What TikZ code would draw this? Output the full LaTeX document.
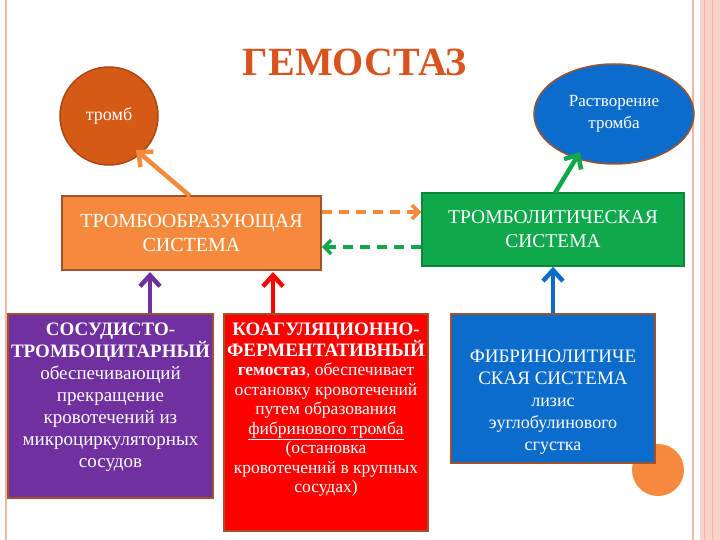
\documentclass[tikz,border=0pt]{standalone}
\usepackage{fontspec}
\setmainfont{Liberation Serif}
\usetikzlibrary{shapes.geometric,arrows.meta}
\definecolor{ttl}{HTML}{D9531E}
\definecolor{org}{HTML}{F58A3C}
\definecolor{brn}{HTML}{D55A15}
\definecolor{grn}{HTML}{10A84C}
\definecolor{blu}{HTML}{0B6CCB}
\definecolor{pur}{HTML}{7030A0}
\definecolor{rd}{HTML}{FF0000}
\definecolor{edge}{HTML}{A0522D}
\definecolor{pink}{HTML}{F4B4A4}
\begin{document}
\begin{tikzpicture}[x=1pt,y=-1pt,
  box/.style={draw=edge,line width=1.5pt,text=white,align=center,inner sep=0pt},
  arr/.style={line width=4.5pt,-{Straight Barb[length=11pt,width=20pt]}},
  darr/.style={line width=3.5pt,dash pattern=on 10pt off 7pt,-{Straight Barb[length=7pt,width=14pt]}}]
\useasboundingbox (0,0) rectangle (720,540);
\fill[white] (0,0) rectangle (720,540);
% border
\draw[pink,line width=1.5pt] (6,0) -- (6,540);
\draw[pink,line width=1.5pt] (693,0) -- (693,540);
\fill[pink!60] (700,0) rectangle (720,540);
\draw[pink,line width=1pt] (704,0) -- (704,540);
\draw[pink,line width=1pt] (712,0) -- (712,540);
\fill[org] (658,470) circle (26);
% title
\node[font=\fontsize{40}{42}\selectfont\bfseries,text=ttl] (t) at (355,62) {ГЕМОСТАЗ};
% nodes
\node[box,circle,fill=brn,minimum size=98pt,draw=brn!80!black,font=\fontsize{18}{20}\selectfont] (tromb) at (109,116) {тромб};
\node[box,ellipse,fill=blu,minimum width=160pt,minimum height=100pt,font=\fontsize{17}{22}\selectfont] (rast) at (614,114) {Растворение\\ тромба};
\node[box,fill=org,minimum width=259pt,minimum height=74pt,font=\fontsize{20}{24}\selectfont] (tro) at (191.5,233) {ТРОМБООБРАЗУЮЩАЯ\\ СИСТЕМА};
\node[box,fill=grn,minimum width=262pt,minimum height=73pt,draw=grn!80!black,font=\fontsize{19.5}{24}\selectfont] (trl) at (553,229.5) {ТРОМБОЛИТИЧЕСКАЯ\\ СИСТЕМА};
\node[box,fill=pur,minimum width=205pt,minimum height=184pt,anchor=north] (p) at (110.5,313) {};
\node[text=white,align=center,anchor=north,font=\fontsize{19}{22}\selectfont] (pt) at (p.north) [yshift=-6pt] {\textbf{СОСУДИСТО-}\\ \textbf{ТРОМБОЦИТАРНЫЙ}\\ обеспечивающий\\ прекращение\\ кровотечений из\\ микроциркуляторных\\ сосудов};
\node[box,fill=rd,minimum width=204pt,minimum height=217pt,anchor=north] (r) at (326,313) {};
\node[text=white,align=center,anchor=north,font=\fontsize{17.5}{19.5}\selectfont] (rt) at (r.north) [yshift=-6pt] {{\fontsize{19}{22}\selectfont\textbf{КОАГУЛЯЦИОННО-}}\\ {\fontsize{19}{22}\selectfont\textbf{ФЕРМЕНТАТИВНЫЙ}}\\ \textbf{гемостаз}, обеспечивает\\ остановку кровотечений\\ путем образования\\ \underline{фибринового тромба}\\ (остановка\\ кровотечений в крупных\\ сосудах)};
\node[box,fill=blu,minimum width=204pt,minimum height=149pt,anchor=north] (b) at (553,313) {};
\node[text=white,align=center,anchor=north,font=\fontsize{19}{22}\selectfont] (bt) at (b.north) [yshift=-33pt] {ФИБРИНОЛИТИЧЕ\\ СКАЯ СИСТЕМА\\ {\fontsize{18}{22}\selectfont лизис}\\ {\fontsize{18}{22}\selectfont эуглобулинового}\\ {\fontsize{18}{22}\selectfont сгустка}};
% arrows
\coordinate (a1) at (190,196); \coordinate (a1e) at (136,150);
\draw[arr,org] (a1) -- (a1e);
\coordinate (a2) at (555,193); \coordinate (a2e) at (580,152);
\draw[arr,grn] (a2) -- (a2e);
\draw[darr,org] ([yshift=21pt]tro.east) -- ([yshift=17.5pt]trl.west);
\draw[darr,grn] ([yshift=-17.5pt]trl.west) -- ([yshift=-14pt]tro.east);
\draw[arr,pur] (150,313) -- (150,272);
\draw[arr,rd] (273,313) -- (273,272);
\draw[arr,blu] (b.north) -- (trl.south);
\end{tikzpicture}
\end{document}
